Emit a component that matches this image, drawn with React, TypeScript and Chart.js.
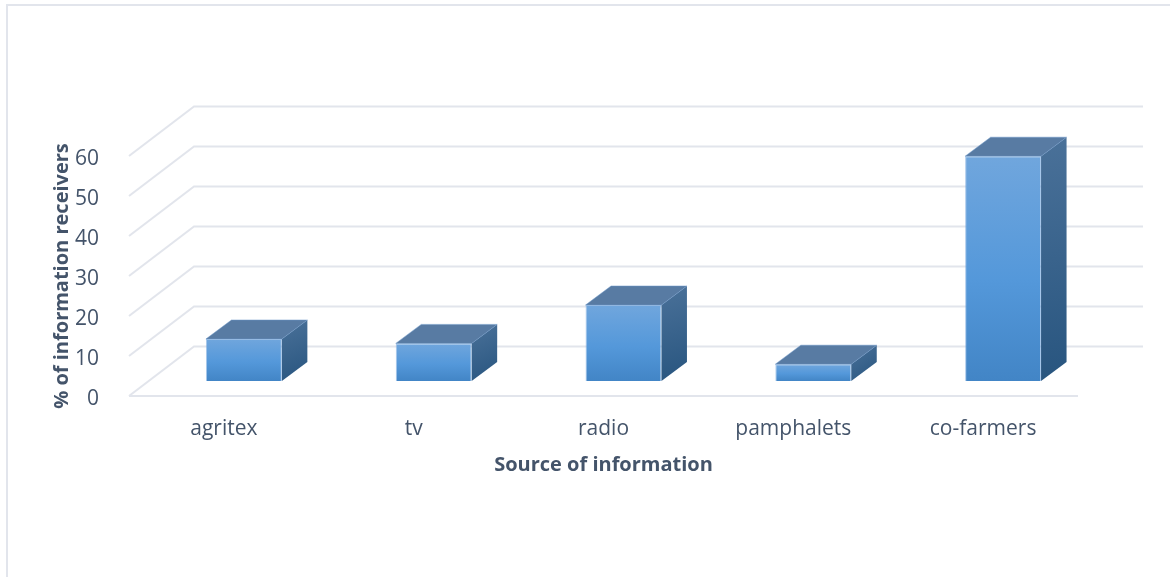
import { useEffect, useRef } from "react";
import { Chart, registerables, Plugin } from "chart.js";

Chart.register(...registerables);

const categories = ["agritex", "tv", "radio", "pamphalets", "co-farmers"];
const receivers = [10.5, 9.4, 19, 4.2, 56.2];
const yTicksMax = 60;
const yTicksStep = 10;
const xTitle = "Source of information";
const yTitle = "% of information receivers";

const FONT = "'Open Sans', 'Noto Sans', sans-serif";
const INK = "#44546a";
const GRID = "#e2e5ec";

// Oblique projection used for the floor and walls, and for each column.
const WALL_DX = 65;
const WALL_DY = 49.5;
const BAR_SHIFT_X = 20;
const BAR_SHIFT_Y = 15;
const BAR_DX = 25.5;
const BAR_DY = 19;

const wallsPlugin: Plugin<"bar"> = {
  id: "walls",
  beforeDatasetsDraw(chart) {
    const { ctx, scales, chartArea } = chart;
    const y = scales.y;
    ctx.save();
    ctx.strokeStyle = GRID;
    ctx.lineWidth = 2;
    ctx.lineCap = "butt";
    y.ticks.forEach((tick) => {
      const py = y.getPixelForValue(tick.value as number);
      ctx.beginPath();
      ctx.moveTo(chartArea.left, py);
      ctx.lineTo(chartArea.left + WALL_DX, py - WALL_DY);
      ctx.lineTo(chartArea.right + WALL_DX, py - WALL_DY);
      ctx.stroke();
    });
    const floor = y.getPixelForValue(0);
    ctx.beginPath();
    ctx.moveTo(chartArea.left, floor);
    ctx.lineTo(chartArea.right, floor);
    ctx.stroke();
    ctx.restore();
  },
  beforeDatasetDraw(chart) {
    const { ctx } = chart;
    const bars = chart.getDatasetMeta(0).data;
    ctx.save();
    ctx.translate(BAR_SHIFT_X, -BAR_SHIFT_Y);
    // Side and top faces sit behind the front face of each column.
    bars.forEach((bar) => {
      const { x, y, base, width } = bar.getProps(["x", "y", "base", "width"], true) as {
        x: number;
        y: number;
        base: number;
        width: number;
      };
      const l = x - width / 2;
      const r = x + width / 2;

      const side = ctx.createLinearGradient(r, y - BAR_DY, r + BAR_DX, base);
      side.addColorStop(0, "#4a7199");
      side.addColorStop(1, "#28557f");
      ctx.fillStyle = side;
      ctx.beginPath();
      ctx.moveTo(r, y);
      ctx.lineTo(r + BAR_DX, y - BAR_DY);
      ctx.lineTo(r + BAR_DX, base - BAR_DY);
      ctx.lineTo(r, base);
      ctx.closePath();
      ctx.fill();

      ctx.fillStyle = "#587ba3";
      ctx.strokeStyle = "rgba(105,150,200,0.5)";
      ctx.lineWidth = 1;
      ctx.beginPath();
      ctx.moveTo(l, y);
      ctx.lineTo(l + BAR_DX, y - BAR_DY);
      ctx.lineTo(r + BAR_DX, y - BAR_DY);
      ctx.lineTo(r, y);
      ctx.closePath();
      ctx.fill();
      ctx.stroke();
    });
  },
  afterDatasetDraw(chart) {
    chart.ctx.restore();
  },
};

// Thin frame along the top and left of the chart.
const framePlugin: Plugin<"bar"> = {
  id: "frame",
  beforeDraw(chart) {
    const { ctx, width, height } = chart;
    ctx.save();
    ctx.fillStyle = "#ffffff";
    ctx.fillRect(0, 0, width, height);
    ctx.strokeStyle = GRID;
    ctx.lineWidth = 2;
    ctx.beginPath();
    ctx.moveTo(7, height);
    ctx.lineTo(7, 5);
    ctx.lineTo(width, 5);
    ctx.stroke();
    ctx.restore();
  },
};

export default function App() {
  const ref = useRef<HTMLCanvasElement>(null);

  useEffect(() => {
    const chart = new Chart(ref.current!, {
      type: "bar",
      data: {
        labels: categories,
        datasets: [
          {
            data: receivers,
            barPercentage: 0.4,
            categoryPercentage: 1,
            borderWidth: 1,
            borderColor: "rgba(105,160,220,0.6)",
            backgroundColor: (c) => {
              const { chart: ch, parsed } = c;
              const scale = ch.scales?.y;
              if (!scale || !parsed) return "#5498da";
              const y0 = scale.getPixelForValue(parsed.y);
              const y1 = scale.getPixelForValue(0);
              if (!Number.isFinite(y0) || !Number.isFinite(y1)) return "#5498da";
              const g = ch.ctx.createLinearGradient(0, y0, 0, y1);
              g.addColorStop(0, "#70a6dd");
              g.addColorStop(0.55, "#5498da");
              g.addColorStop(1, "#4285c6");
              return g;
            },
          },
        ],
      },
      options: {
        animation: false,
        responsive: false,
        layout: { padding: { left: 50, right: 92, top: 156, bottom: 100 } },
        plugins: { legend: { display: false }, tooltip: { enabled: false } },
        scales: {
          x: {
            grid: { display: false },
            border: { display: false },
            ticks: {
              color: INK,
              padding: 12,
              maxRotation: 0,
              font: { family: FONT, size: 21 },
            },
            title: {
              display: true,
              text: xTitle,
              color: INK,
              padding: { top: 4, bottom: 0 },
              font: { family: FONT, size: 20, weight: "bold" },
            },
            afterFit: (s) => {
              s.height = 81;
            },
          },
          y: {
            min: 0,
            max: yTicksMax,
            grid: { display: false },
            border: { display: false },
            ticks: {
              color: INK,
              padding: 22,
              labelOffset: 3,
              stepSize: yTicksStep,
              font: { family: FONT, size: 21 },
            },
            title: {
              display: true,
              text: yTitle,
              color: INK,
              padding: 0,
              font: { family: FONT, size: 20, weight: "bold" },
            },
            afterFit: (s) => {
              s.width = 79;
            },
          },
        },
      },
      plugins: [framePlugin, wallsPlugin],
    });
    return () => chart.destroy();
  }, []);

  return (
    <div style={{ position: "absolute", left: 0, top: 0, width: 1170, height: 577 }}>
      <canvas ref={ref} width={1170} height={577} style={{ display: "block" }} />
    </div>
  );
}
